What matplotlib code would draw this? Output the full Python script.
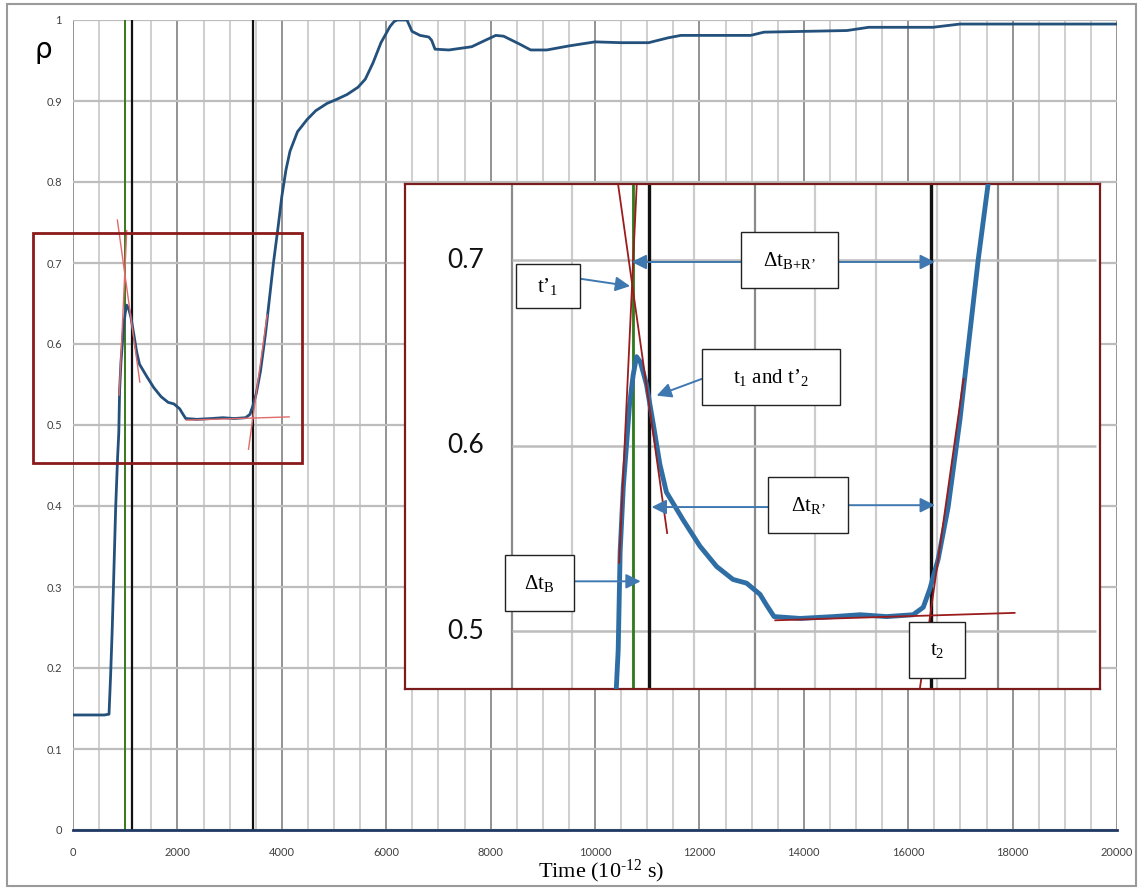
import numpy as np
import matplotlib
matplotlib.use("Agg")
from matplotlib import pyplot as plt
from matplotlib.patches import Rectangle

plt.rcParams['font.family'] = ['Lato', 'DejaVu Sans']
plt.rcParams['mathtext.fontset'] = 'custom'
plt.rcParams['mathtext.rm'] = 'Liberation Serif'
plt.rcParams['mathtext.it'] = 'Liberation Serif:italic'

# reflectivity curve, time in 1e-12 s
t_ps = [0, 200, 400, 600, 690, 720, 750, 773, 818, 855, 877, 893, 919, 945,
        970, 1000, 1028, 1060, 1110, 1170, 1220, 1274, 1412, 1549, 1687, 1822,
        1934, 2044, 2100, 2160, 2375, 2650, 2870, 3086, 3305, 3388, 3443, 3511,
        3593, 3690, 3840, 3930, 4000, 4080, 4157, 4300, 4483, 4650, 4866, 5050,
        5250, 5460, 5600, 5747, 5900, 6073, 6150, 6207, 6398, 6494, 6648, 6816,
        6870, 6935, 7200, 7638, 7900, 8100, 8250, 8563, 8768, 9077, 9500, 10000,
        10500, 11028, 11400, 11646, 12981, 13238, 14828, 15243, 16475, 16992,
        20000]
rho = [0.142, 0.142, 0.142, 0.142, 0.143, 0.19, 0.245, 0.296, 0.399, 0.461,
       0.49, 0.543, 0.578, 0.600, 0.622, 0.638, 0.648, 0.645, 0.633, 0.610,
       0.590, 0.575, 0.560, 0.546, 0.535, 0.528, 0.526, 0.520, 0.514, 0.508,
       0.507, 0.508, 0.509, 0.508, 0.509, 0.513, 0.523, 0.539, 0.567, 0.614,
       0.700, 0.745, 0.782, 0.815, 0.838, 0.862, 0.877, 0.888, 0.897, 0.902,
       0.908, 0.917, 0.927, 0.947, 0.972, 0.992, 0.998, 1.0, 1.0, 0.986,
       0.981, 0.979, 0.975, 0.964, 0.963, 0.967, 0.975, 0.981, 0.980, 0.970,
       0.963, 0.963, 0.968, 0.973, 0.972, 0.972, 0.978, 0.981, 0.981, 0.985,
       0.987, 0.991, 0.991, 0.995, 0.995]

# marker times
t_green = 1000
t_black = [1130, 3450]

# tangent lines (t0, rho0, t1, rho1)
tangents = [(885, 0.537, 1029, 0.740),
            (850, 0.753, 1280, 0.553),
            (2170, 0.506, 4140, 0.510),
            (3362, 0.470, 3720, 0.636)]

# zoom region box in main plot
zoom_box = (-766, 0.453, 4387, 0.737)

# inset annotation boxes: label, (t0, t1), (rho0, rho1)
boxes = [("t’$_1$", (35, 562), (0.674, 0.698)),
         ("Δt$_{\\mathrm{B{+}R’}}$", (1885, 2688), (0.685, 0.715)),
         ("t$_1$ and t’$_2$", (1564, 2702), (0.622, 0.652)),
         ("Δt$_{\\mathrm{R’}}$", (2112, 2765), (0.553, 0.583)),
         ("Δt$_{\\mathrm{B}}$", (-55, 515), (0.511, 0.541)),
         ("t$_2$", (3272, 3731), (0.475, 0.505))]
# arrows: (start t, start rho, tip t, tip rho)
arrows = [(562, 0.690, 975, 0.686),
          (1885, 0.699, 988, 0.699),
          (2688, 0.699, 3484, 0.699),
          (1564, 0.636, 1193, 0.627),
          (2112, 0.567, 1152, 0.567),
          (2765, 0.568, 3484, 0.568),
          (515, 0.527, 1062, 0.527)]

W, H = 1141, 890
fig = plt.figure(figsize=(W / 100, H / 100), dpi=100)

ax = fig.add_axes([73 / W, 1 - 830 / H, (1117 - 73) / W, (830 - 20) / H])
ax.set_xlim(0, 20000)
ax.set_ylim(0, 1)
ax.set_xticks(np.arange(0, 20001, 2000))
ax.set_xticks(np.arange(0, 20001, 500), minor=True)
ax.set_yticks(np.arange(0, 1.01, 0.1))
ax.set_xticklabels([str(v) for v in range(0, 20001, 2000)])
ax.set_yticklabels(['0', '0.1', '0.2', '0.3', '0.4', '0.5', '0.6', '0.7', '0.8', '0.9', '1'])
ax.tick_params(axis='both', which='both', length=0, labelsize=8, labelcolor='#404040')
ax.tick_params(axis='x', pad=12)
ax.tick_params(axis='y', pad=8)
ax.grid(True, axis='x', which='minor', color='#cccccc', lw=1.3)
ax.grid(True, axis='x', which='major', color='#8a8a8a', lw=1.3)
ax.grid(True, axis='y', which='major', color='#bdbdbd', lw=1.6)
ax.set_axisbelow(True)
for s in ['top', 'right', 'left']:
    ax.spines[s].set_visible(False)
ax.spines['bottom'].set_color('#1f3864')
ax.spines['bottom'].set_linewidth(2)

ax.axvline(t_green, color='#3a7a1e', lw=1.4, zorder=2)
for tb in t_black:
    ax.axvline(tb, color='#111111', lw=1.6, zorder=2)
ax.plot(t_ps, rho, color='#24507c', lw=2, zorder=3)
for x0, y0, x1, y1 in tangents:
    ax.plot([x0, x1], [y0, y1], color='#e06a6a', lw=1, zorder=4)
ax.add_patch(Rectangle((zoom_box[0], zoom_box[1]), zoom_box[2] - zoom_box[0],
                       zoom_box[3] - zoom_box[1], fill=False, ec='#8b1a1a',
                       lw=2, clip_on=False, zorder=5))

fig.text(43 / W, 1 - 50 / H, 'ρ', fontsize=20, ha='center', va='center',
         family=['DejaVu Sans'])
fig.text(601 / W, 1 - 871 / H, 'Time (10$^{\\mathrm{‐12}}$ s)', fontsize=16,
         ha='center', va='center', family=['Liberation Serif'])

# inset
ix0, ix1, iy0, iy1 = 405, 1100, 184, 689
ins = fig.add_axes([ix0 / W, 1 - iy1 / H, (ix1 - ix0) / W, (iy1 - iy0) / H])
ins.set_facecolor('white')
ins.set_xlim(-878, 4843)
ins.set_ylim(0.469, 0.741)
ins.set_xticks([])
ins.set_yticks([])
for s in ins.spines.values():
    s.set_color('#7b1c1c')
    s.set_linewidth(1.6)
minor_t = np.arange(0, 4800, 500)
ins.vlines([v for v in minor_t if v % 2000], 0.469, 0.741, color='#cccccc', lw=1.6, zorder=0.5)
ins.vlines([v for v in minor_t if v % 2000 == 0], 0.469, 0.741, color='#8a8a8a', lw=1.6, zorder=0.5)
ins.hlines([0.5, 0.6, 0.7], 0, 4810, color='#bdbdbd', lw=1.8, zorder=0.5)
for yv in [0.5, 0.6, 0.7]:
    ins.text(-380, yv, f'{yv:.1f}', fontsize=19, ha='center', va='center', color='#111111')

ins.axvline(t_green, color='#2f7a1a', lw=2, zorder=2)
for tb in t_black:
    ins.axvline(tb, color='#111111', lw=2.4, zorder=2)
ins.plot(t_ps, rho, color='#2f6ea5', lw=3.5, zorder=3)
for x0, y0, x1, y1 in tangents:
    ins.plot([x0, x1], [y0, y1], color='#9b1c1c', lw=1.3, zorder=4)

for x0, y0, x1, y1 in arrows:
    ins.annotate('', xy=(x1, y1), xytext=(x0, y0), zorder=5,
                 arrowprops=dict(arrowstyle='-|>', color='#3f78b0', lw=1.4,
                                 mutation_scale=22, shrinkA=0, shrinkB=0))
for label, (bx0, bx1), (by0, by1) in boxes:
    ins.add_patch(Rectangle((bx0, by0), bx1 - bx0, by1 - by0, fc='white',
                            ec='#222222', lw=1, zorder=6))
    ins.text((bx0 + bx1) / 2, (by0 + by1) / 2, label, fontsize=15, ha='center',
             va='center', family=['Liberation Serif'], zorder=7)

fig.add_artist(Rectangle((7 / W, 4 / H), (1136 - 7) / W, (886 - 4) / H,
                         transform=fig.transFigure, fill=False, ec='#9a9a9a', lw=1.5))

fig.savefig('out.png', dpi=100)
